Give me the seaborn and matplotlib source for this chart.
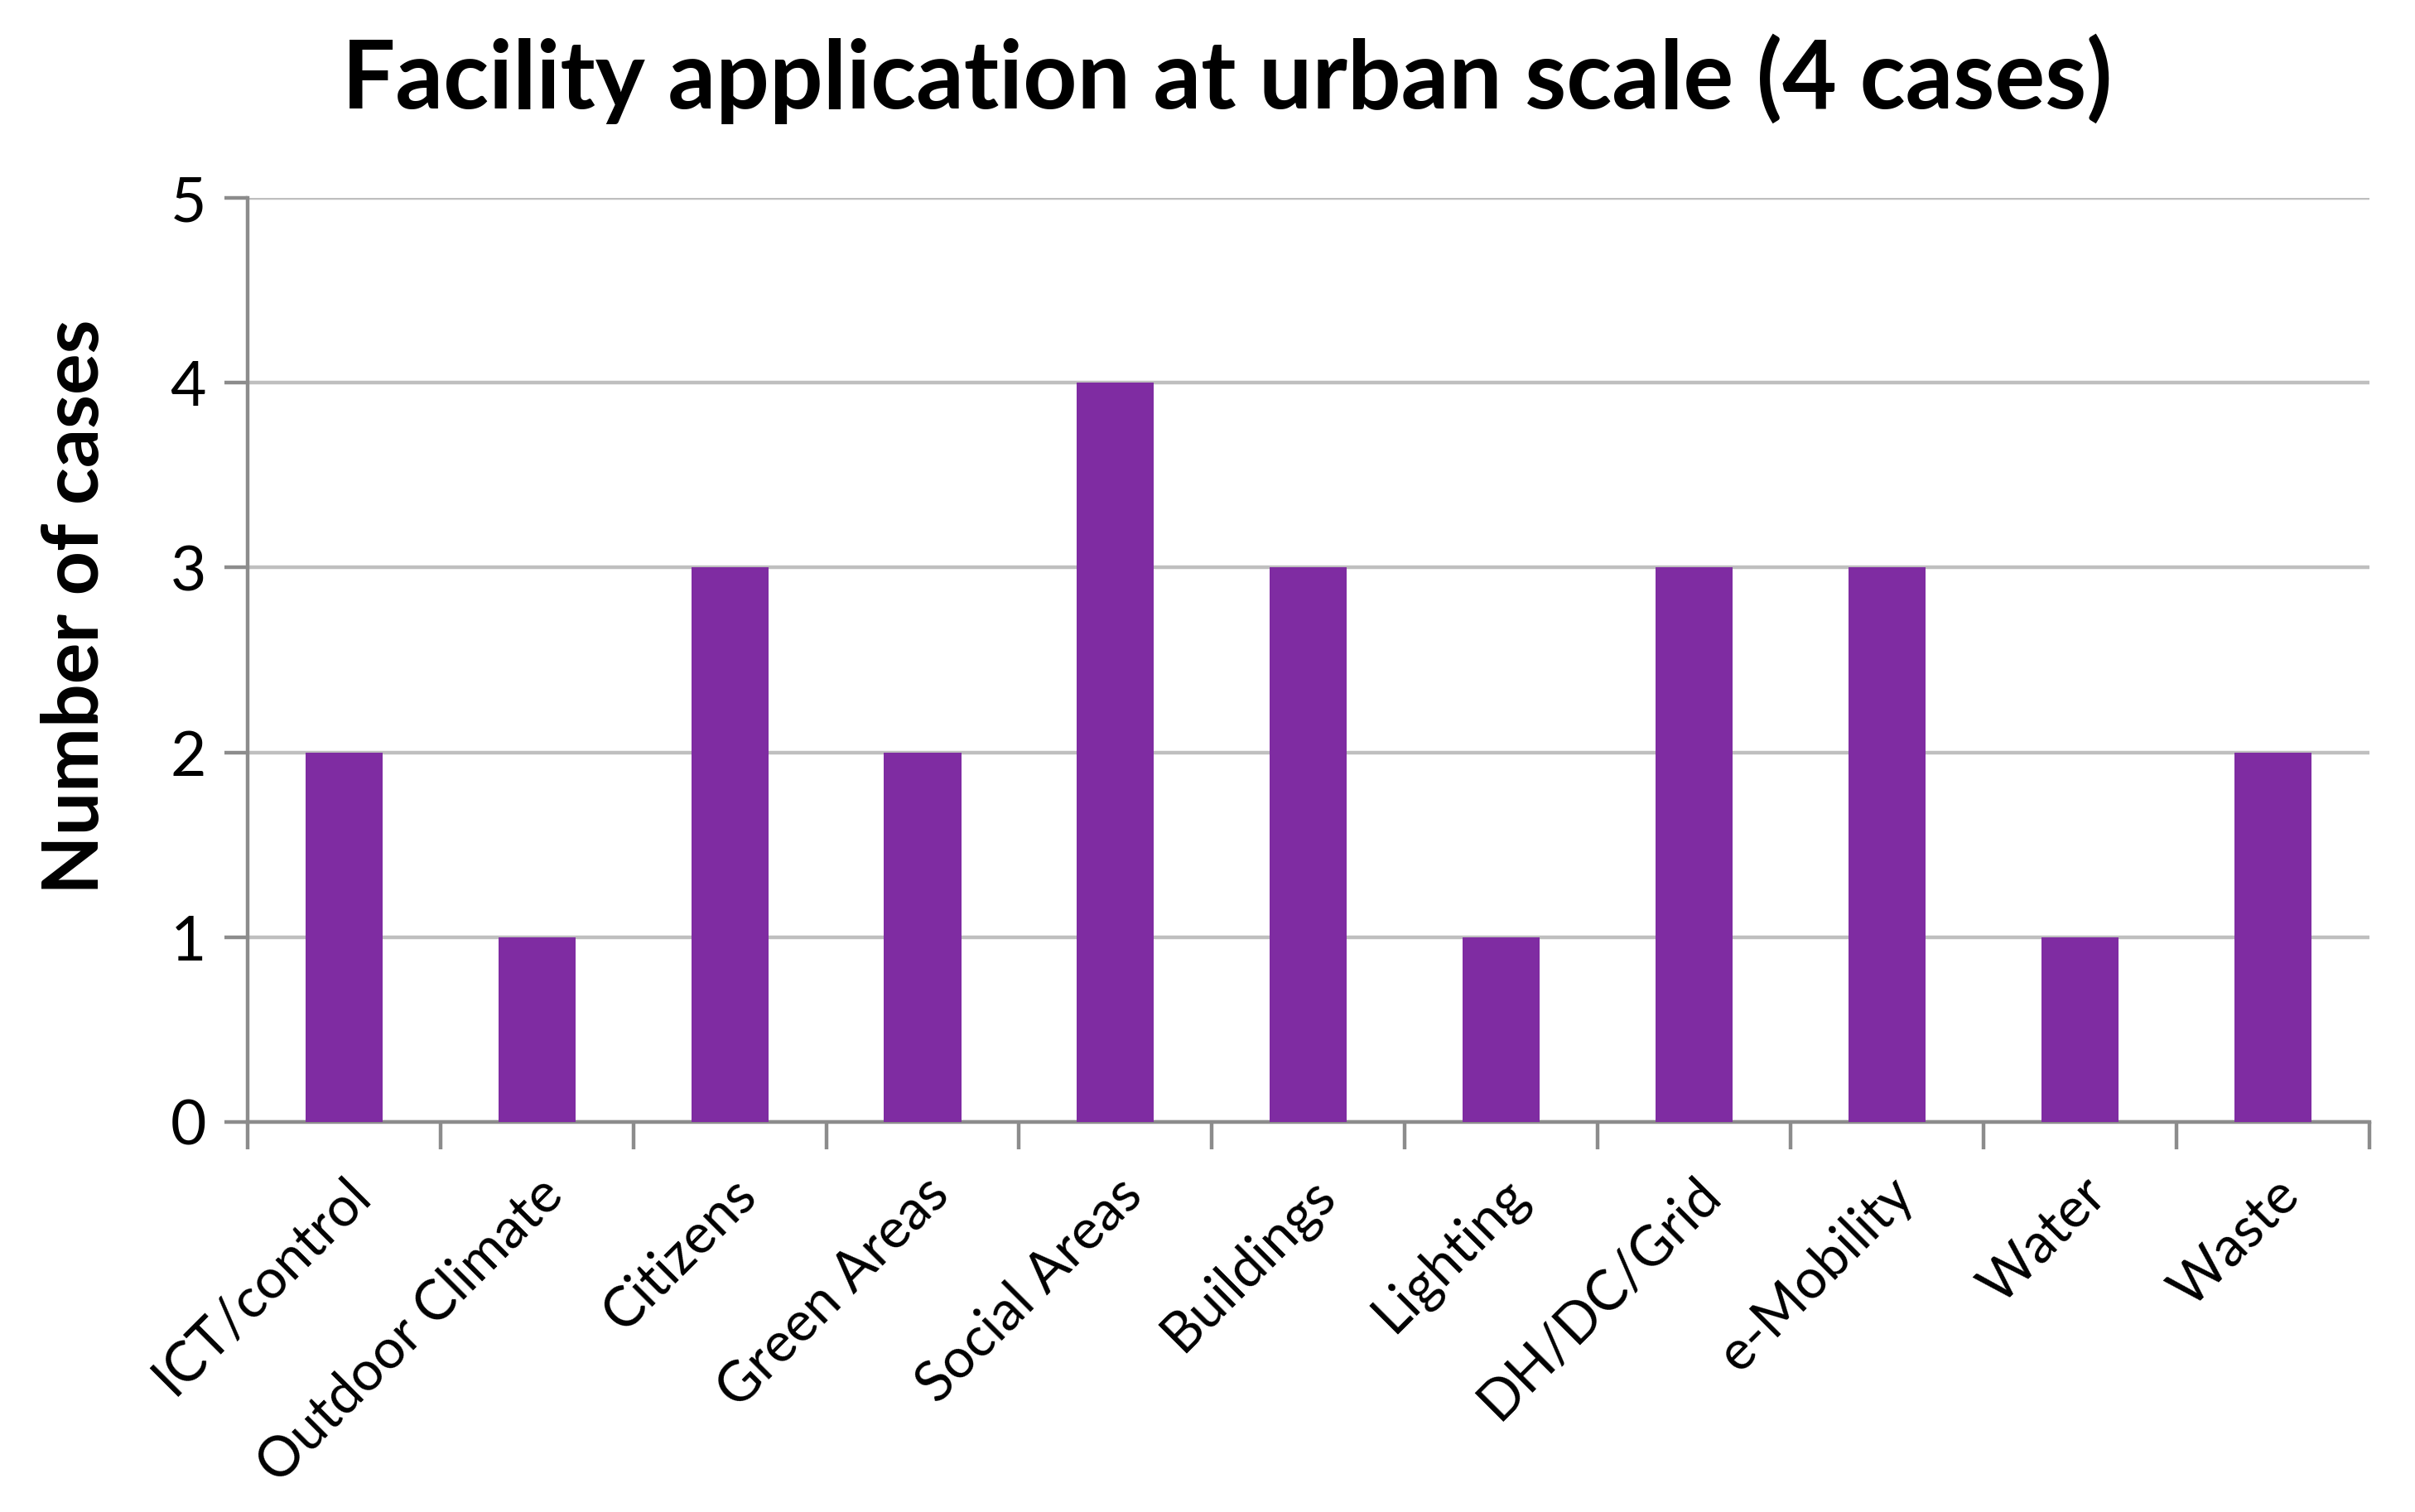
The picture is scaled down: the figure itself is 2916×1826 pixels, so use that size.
import matplotlib
matplotlib.use("Agg")
import matplotlib.pyplot as plt
import seaborn as sns
import pandas as pd
import numpy as np

categories = [
    "ICT/control", "Outdoor Climate", "Citizens", "Green Areas", "Social Areas",
    "Buildings", "Lighting", "DH/DC/Grid", "e-Mobility", "Water", "Waste",
]
cases = [2, 1, 3, 2, 4, 3, 1, 3, 3, 1, 2]
y_ticks = [0, 1, 2, 3, 4, 5]

BAR = "#7F2CA2"
GRID = "#BFBFBF"
AXIS = "#8C8C8C"


def main():
    sns.set_style("white")
    plt.rcParams["font.family"] = ["Lato", "DejaVu Sans"]
    plt.rcParams["text.color"] = "black"
    plt.rcParams["xtick.color"] = "black"
    plt.rcParams["ytick.color"] = "black"
    plt.rcParams["axes.labelcolor"] = "black"

    df = pd.DataFrame({"category": categories, "cases": cases})

    fig = plt.figure(figsize=(14.58, 9.13), dpi=200)
    ax = fig.add_axes([0.1025, 0.258, 0.8785, 0.611])

    sns.barplot(data=df, x="category", y="cases", color=BAR, width=0.4,
                saturation=1, linewidth=0, edgecolor=BAR, ax=ax, zorder=3)

    ax.set_ylim(0, 5)
    ax.set_xlim(-0.5, len(categories) - 0.5)
    ax.set_yticks(y_ticks)
    ax.yaxis.grid(True, color=GRID, linewidth=1.6, zorder=0)
    ax.set_axisbelow(True)

    for side in ["top", "right"]:
        ax.spines[side].set_visible(False)
    for side in ["left", "bottom"]:
        ax.spines[side].set_color(AXIS)
        ax.spines[side].set_linewidth(1.6)

    ax.tick_params(axis="y", length=10, width=1.6, color=AXIS, labelsize=27,
                   labelcolor="black", pad=8, left=True)
    ax.set_xticks(np.arange(len(categories)))
    ax.set_xticks(np.arange(-0.5, len(categories)), minor=True)
    ax.tick_params(axis="x", which="major", length=0, pad=20,
                   labelcolor="black")
    ax.tick_params(axis="x", which="minor", length=12, width=1.6, color=AXIS,
                   bottom=True)
    ax.set_xticklabels(categories, rotation=45, ha="right",
                       rotation_mode="anchor", fontsize=24)

    ax.set_xlabel("")
    ax.set_ylabel("Number of cases", fontsize=33.5, fontweight="bold")
    ax.yaxis.set_label_coords(-0.064, 0.558)
    fig.suptitle("Facility application at urban scale (4 cases)", fontsize=41,
                 fontweight="bold", x=0.508, y=0.978)

    fig.savefig("out.png", dpi=200)
    plt.close(fig)


if __name__ == "__main__":
    main()
